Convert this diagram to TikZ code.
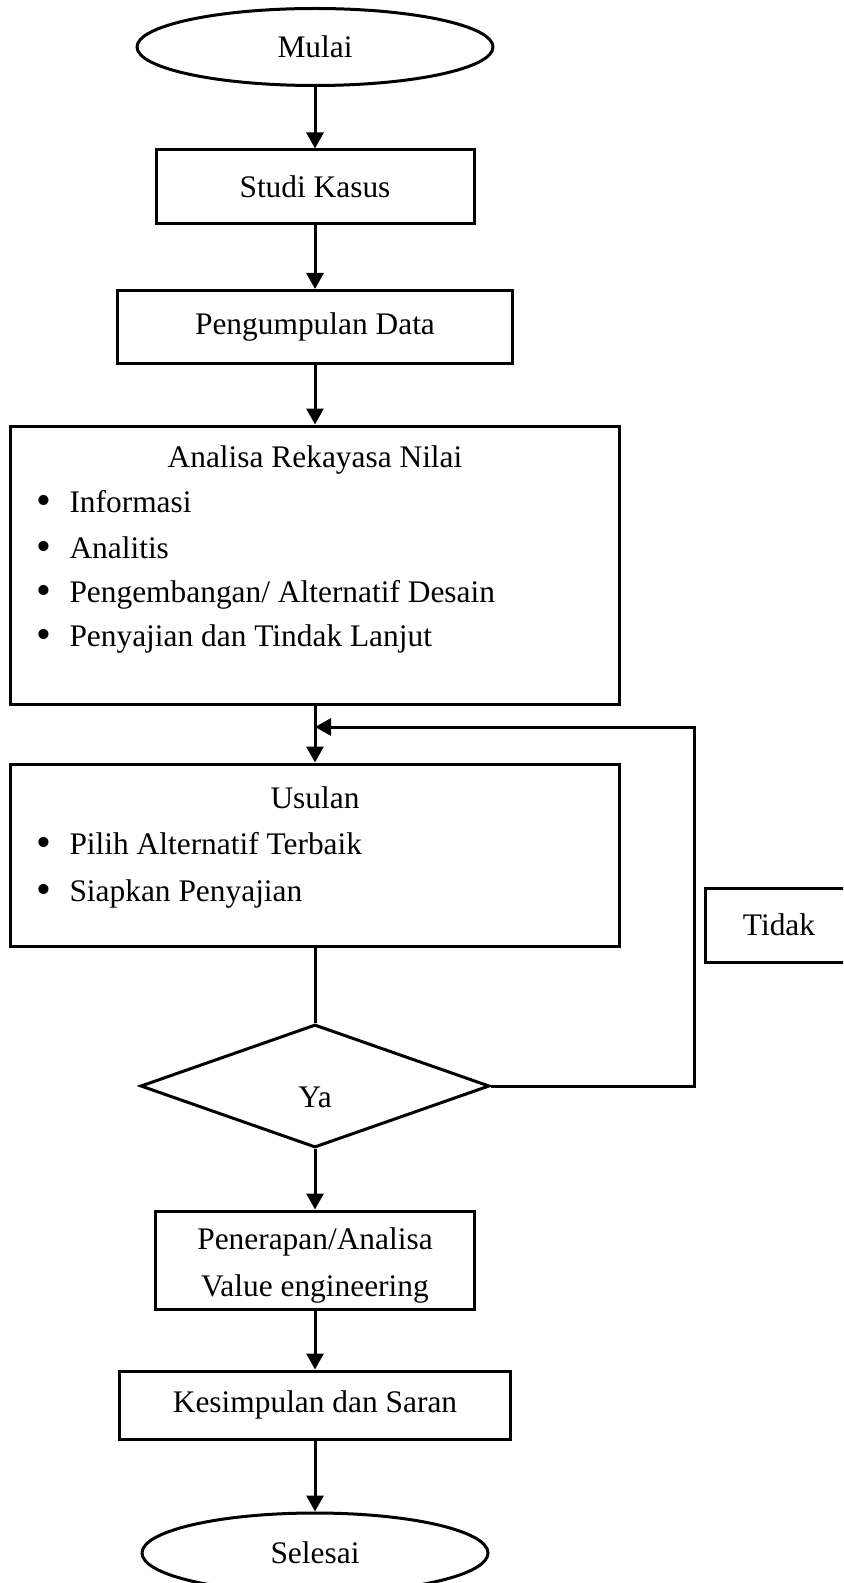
\documentclass[tikz,border=0pt]{standalone}
\usepackage{fontspec}
\setmainfont{Liberation Serif}
\usetikzlibrary{shapes.geometric,arrows.meta}
\newcommand{\bul}{\llap{\raisebox{-0.08em}{\scalebox{1.35}{\textbullet}}\hspace{9pt}}}
\begin{document}
\begin{tikzpicture}[x=0.5pt,y=-0.5pt, line width=1.5pt,
  font=\fontsize{15.7pt}{22.5pt}\selectfont,
  box/.style={draw, rectangle, inner sep=0pt},
  term/.style={draw, ellipse, inner sep=0pt},
  arr/.style={-{Triangle[length=8pt,width=8.5pt]}},
  itm/.style={anchor=base west, inner sep=0pt},
  ttl/.style={anchor=base, inner sep=0pt}]
\useasboundingbox (0,0) rectangle (843,1583);
\clip (0,0) rectangle (843,1583);
\fill[white] (0,0) rectangle (843,1583);

\node[term, minimum width=178pt, minimum height=38.5pt] (mulai) at (315,47) {Mulai};
\node[box, minimum width=159pt, minimum height=37pt] (studi) at (315,187) {Studi Kasus};
\node[box, minimum width=197.5pt, minimum height=36.5pt] (data) at (315,327) {Pengumpulan Data};
\node[box, minimum width=304.5pt, minimum height=139pt] (ana) at (315,565) {};
\node[ttl] (anat) at (315,467) {Analisa Rekayasa Nilai};
\node[itm] (a1) at (68,512) {\bul Informasi};
\node[itm] (a2) at (68,558) {\bul Analitis};
\node[itm] (a3) at (68,602) {\bul Pengembangan/ Alternatif Desain};
\node[itm] (a4) at (68,646) {\bul Penyajian dan Tindak Lanjut};

\node[box, minimum width=304.5pt, minimum height=91pt] (usl) at (315,855) {};
\node[ttl] (uslt) at (315,808) {Usulan};
\node[itm] (u1) at (68,854) {\bul Pilih Alternatif Terbaik};
\node[itm] (u2) at (68,901) {\bul Siapkan Penyajian};

\node[draw, diamond, inner sep=0pt, minimum width=174.5pt, minimum height=61.5pt] (dec) at (315,1086) {};
\node[inner sep=0pt] (ya) at (315,1097) {Ya};

\node[box, minimum width=74pt, minimum height=37pt] (tidak) at (779,925) {Tidak};

\node[box, minimum width=159.5pt, minimum height=49pt] (pen) at (315,1260) {};
\node[align=center, inner sep=0pt, font=\fontsize{15.7pt}{23.5pt}\selectfont] (pent) at (315,1265) {Penerapan/Analisa\\Value engineering};
\node[box, minimum width=195.5pt, minimum height=34pt] (kes) at (315,1405) {Kesimpulan dan Saran};
\node[term, minimum width=173pt, minimum height=40pt] (sel) at (315,1553) {Selesai};

\coordinate (fb) at (694,727);
\coordinate (mrg) at (315,727);

\draw[arr] (mulai.south) -- (studi.north);
\draw[arr] (studi.south) -- (data.north);
\draw[arr] (data.south) -- (ana.north);
\draw[arr] (ana.south) -- (usl.north);
\draw (usl.south) -- (dec.north);
\draw[arr] (dec.east) -| (fb) -- (mrg);
\draw[arr] (dec.south) -- (pen.north);
\draw[arr] (pen.south) -- (kes.north);
\draw[arr] (kes.south) -- (sel.north);
\end{tikzpicture}
\end{document}
